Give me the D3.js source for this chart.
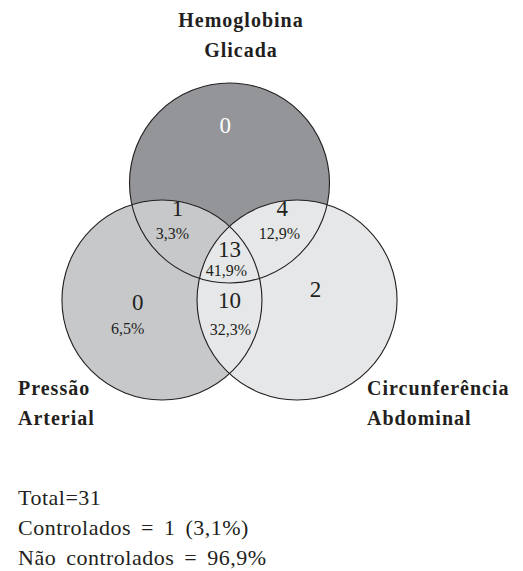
<!DOCTYPE html>
<html>
<head>
<meta charset="utf-8">
<script src="https://cdn.jsdelivr.net/npm/d3@7"></script>
<style>
  body { margin: 0; background: #fff; }
  svg { display: block; }
  text { font-family: "Liberation Serif", "DejaVu Serif", serif; fill: #231f20; }
</style>
</head>
<body>
<svg id="chart" width="523" height="571"></svg>
<script>
// sets of the diagram
const setNames = ["Hemoglobina Glicada", "Pressão Arterial", "Circunferência Abdominal"];
const setColors = ["#939598", "#c7c8ca", "#e6e7e8"];

// regions: which sets, count, percent
const regionSets = [[0], [1], [2], [0, 1], [0, 2], [1, 2], [0, 1, 2]];
const regionCounts = [0, 0, 2, 1, 4, 10, 13];
const regionPercents = ["", "6,5%", "", "3,3%", "12,9%", "32,3%", "41,9%"];

// footnote lines
const notes = ["Total=31", "Controlados = 1 (3,1%)", "Não controlados = 96,9%"];

window.onload = function() {
    const svg = d3.select("#chart");

    // venn geometry in unit space, mapped to pixels by linear scales
    const x = d3.scaleLinear().domain([-1, 1]).range([129.5, 329.5]);
    const y = d3.scaleLinear().domain([-1, 1]).range([161, 361]);
    const r = (x(1) - x(-1)) / 2;
    const d = 0.78; // distance of circle centre from diagram centre (in radii)
    const angles = [-90, 150, 30].map(a => a * Math.PI / 180);
    const centers = angles.map(a => [d * Math.cos(a), d * Math.sin(a)]);

    const circles = svg.append("g");
    circles.selectAll("circle.fill")
        .data(setNames)
        .enter().append("circle")
        .attr("class", "fill")
        .attr("cx", (s, i) => x(centers[i][0]))
        .attr("cy", (s, i) => y(centers[i][1]))
        .attr("r", r)
        .attr("fill", (s, i) => setColors[i]);
    circles.selectAll("circle.edge")
        .data(setNames)
        .enter().append("circle")
        .attr("class", "edge")
        .attr("cx", (s, i) => x(centers[i][0]))
        .attr("cy", (s, i) => y(centers[i][1]))
        .attr("r", r)
        .attr("fill", "none")
        .attr("stroke", "#231f20")
        .attr("stroke-width", 1.1);

    // label placement: angle (deg) and distance (in radii) from diagram centre
    const labelPos = [
        { a: -92, k: 1.24, pdx: 0, pdy: 0 },
        { a: 150, k: 1.06, pdx: -10, pdy: 24 },
        { a: 25, k: 0.95, pdx: 0, pdy: 0 },
        { a: 218, k: 0.66, pdx: -5, pdy: 23 },
        { a: -38, k: 0.67, pdx: -3, pdy: 23 },
        { a: 90, k: 0.51, pdx: 1, pdy: 27 },
        { a: 0, k: 0, pdx: -3, pdy: 19 }
    ];

    const regions = svg.append("g").selectAll("g")
        .data(regionSets)
        .enter().append("g")
        .attr("transform", (s, i) => {
            const p = labelPos[i], a = p.a * Math.PI / 180;
            return "translate(" + x(p.k * Math.cos(a)) + "," + (y(p.k * Math.sin(a)) - 4) + ")";
        });

    regions.append("text")
        .attr("text-anchor", "middle")
        .attr("font-size", 23)
        .style("fill", (s, i) => s.length === 1 && s[0] === 0 ? "#fff" : "#231f20")
        .text((s, i) => regionCounts[i]);

    regions.append("text")
        .attr("text-anchor", "middle")
        .attr("font-size", 16)
        .attr("x", (s, i) => labelPos[i].pdx)
        .attr("y", (s, i) => labelPos[i].pdy)
        .text((s, i) => regionPercents[i]);

    // set names
    const nameSpots = [
        { x: 241, y: 27, anchor: "middle" },
        { x: 18, y: 395, anchor: "start" },
        { x: 367, y: 395, anchor: "start" }
    ];
    const nameLines = [["Hemoglobina", "Glicada"], ["Pressão", "Arterial"], ["Circunferência", "Abdominal"]];
    svg.append("g").selectAll("text")
        .data(setNames)
        .enter().append("text")
        .attr("x", (s, i) => nameSpots[i].x)
        .attr("y", (s, i) => nameSpots[i].y)
        .attr("text-anchor", (s, i) => nameSpots[i].anchor)
        .attr("font-size", 20)
        .attr("font-weight", "bold")
        .style("letter-spacing", "1px")
        .selectAll("tspan")
        .data((s, i) => nameLines[i].map(t => ({ t: t, i: i })))
        .enter().append("tspan")
        .attr("x", dd => nameSpots[dd.i].x)
        .attr("dy", (dd, j) => j === 0 ? 0 : 30)
        .text(dd => dd.t);

    // footnotes
    svg.append("g").selectAll("text")
        .data(notes)
        .enter().append("text")
        .attr("x", 18)
        .attr("y", (t, i) => 505 + i * 30)
        .attr("font-size", 22)
        .style("letter-spacing", "0.5px")
        .style("word-spacing", "4px")
        .text(t => t);
};
</script>
</body>
</html>
